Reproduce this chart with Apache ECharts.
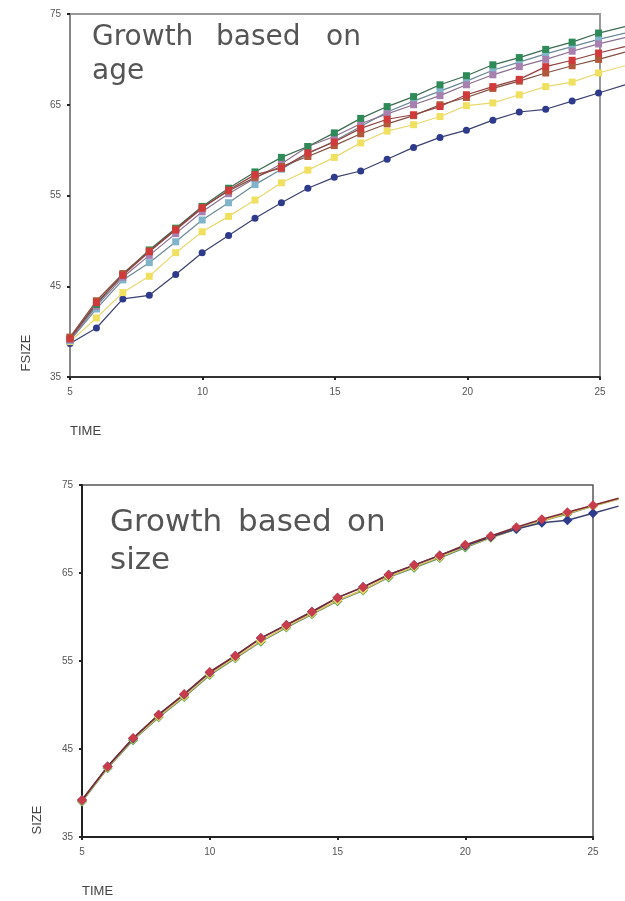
<!DOCTYPE html>
<html><head><meta charset="utf-8">
<script src="https://cdn.jsdelivr.net/npm/echarts@6/dist/echarts.min.js"></script>
<style>html,body{margin:0;padding:0;background:#fff}#c{width:625px;height:901px}</style>
</head><body><div id="c"></div>
<script>
// Time points (26 is only the line running off past the frame)
var times = [5,6,7,8,9,10,11,12,13,14,15,16,17,18,19,20,21,22,23,24,25,26];
var xTicks = [5,10,15,20,25];
var yTicks = [35,45,55,65,75];

// Top chart: growth based on age (FSIZE)
var ageGreen  = [39.3,43.0,46.3,49.0,51.4,53.8,55.8,57.6,59.2,60.4,61.9,63.5,64.8,65.9,67.2,68.2,69.4,70.2,71.1,71.9,72.9,73.6];
var ageTeal   = [39.0,42.5,45.7,47.6,49.9,52.3,54.2,56.2,57.9,59.6,61.0,62.6,64.2,65.4,66.5,67.6,68.8,69.7,70.6,71.4,72.2,72.9];
var agePurple = [39.1,42.8,46.0,48.4,50.8,53.2,55.2,56.9,58.5,60.4,61.5,62.9,64.0,65.0,66.0,67.2,68.3,69.2,70.0,70.9,71.7,72.4];
var ageBrown  = [39.4,43.4,46.4,48.9,51.3,53.7,55.5,57.0,58.2,59.3,60.5,61.8,62.9,63.8,65.0,65.8,66.8,67.6,68.5,69.3,70.0,70.8];
var ageRed    = [39.2,43.2,46.2,48.8,51.2,53.6,55.6,57.3,58.0,59.7,60.9,62.4,63.4,63.9,64.8,66.1,67.0,67.8,69.2,69.9,70.7,71.4];
var ageYellow = [38.9,41.5,44.3,46.1,48.7,51.0,52.7,54.5,56.4,57.8,59.2,60.8,62.1,62.8,63.7,64.9,65.2,66.1,67.0,67.5,68.5,69.3];
var ageBlue   = [38.7,40.4,43.6,44.0,46.3,48.7,50.6,52.5,54.2,55.8,57.0,57.7,59.0,60.3,61.4,62.2,63.3,64.2,64.5,65.4,66.3,67.2];

// Bottom chart: growth based on size (SIZE)
var sizeGreen  = [39.0,42.8,46.0,48.6,50.9,53.4,55.3,57.2,58.8,60.3,61.8,63.0,64.5,65.6,66.7,67.9,69.0,70.0,70.9,71.7,72.6,73.4];
var sizeYellow = [39.1,42.9,46.1,48.7,51.0,53.5,55.4,57.3,58.9,60.4,61.9,63.1,64.6,65.7,66.8,68.0,69.0,70.0,70.9,71.8,72.6,73.4];
var sizeBlue   = [39.2,43.0,46.2,48.9,51.2,53.7,55.6,57.6,59.1,60.6,62.2,63.4,64.8,65.9,67.0,68.1,69.1,70.0,70.7,71.0,71.8,72.6];
var sizeRed    = [39.2,43.0,46.25,48.9,51.25,53.75,55.6,57.6,59.1,60.6,62.2,63.4,64.8,65.9,67.0,68.2,69.2,70.2,71.1,71.9,72.7,73.5];

function pairs(v){
  return times.map(function(t,i){
    return t > 25 ? {value:[t, v[i]], symbol:'none'} : [t, v[i]];
  });
}

// frame geometry (visible axes run 5..25; hidden plotting axes run 5..26 at the same scale)
var G1 = {left:70, top:14, width:530, height:363};
var G2 = {left:82, top:485, width:511, height:352};

var tickFont = {color:'#555', fontSize:10, fontFamily:'Liberation Sans'};
function xAxis(gi, axisColor){
  return {type:'value', gridIndex:gi, min:5, max:25, interval:5,
    axisLine:{show:true, onZero:false, lineStyle:{color:axisColor, width:2}},
    axisTick:{show:true, length:3, lineStyle:{color:'#222', width:2}},
    axisLabel:Object.assign({margin:10, formatter:function(v){return xTicks.indexOf(v)>=0?String(v):'';}}, tickFont),
    splitLine:{show:false}};
}
function yAxis(gi, axisColor){
  return {type:'value', gridIndex:gi, min:35, max:75, interval:10,
    axisLine:{show:true, onZero:false, lineStyle:{color:axisColor, width:2}},
    axisTick:{show:true, length:3, lineStyle:{color:'#222', width:2}},
    axisLabel:Object.assign({margin:9, formatter:function(v){return yTicks.indexOf(v)>=0?String(v):'';}}, tickFont),
    splitLine:{show:false}};
}
function hiddenX(gi){ return {type:'value', gridIndex:gi, min:5, max:26, show:false, splitLine:{show:false}}; }
function hiddenY(gi){ return {type:'value', gridIndex:gi, min:35, max:75, show:false, splitLine:{show:false}}; }

function topSeries(data, color, lineColor, symbol, size){
  return {type:'line', xAxisIndex:2, yAxisIndex:2, data:pairs(data), clip:false,
    symbol:symbol||'rect', symbolSize:size||7, showAllSymbol:true,
    itemStyle:{color:color, borderWidth:0},
    lineStyle:{color:lineColor||color, width:1.2}, emphasis:{disabled:true}, silent:true, z:3};
}
function botSeries(data, color, lineColor){
  return {type:'line', xAxisIndex:3, yAxisIndex:3, data:pairs(data), clip:false,
    symbol:'diamond', symbolSize:10, showAllSymbol:true,
    itemStyle:{color:color, borderWidth:0},
    lineStyle:{color:lineColor||color, width:1.5}, emphasis:{disabled:true}, silent:true, z:3};
}
// y given as text baseline
function word(txt, x, baseline, size){
  return {type:'text', x:x, y:baseline - 0.37*size, style:{text:txt, fill:'#555', font:size+'px "DejaVu Sans", sans-serif', verticalAlign:'middle'}};
}

var chart = echarts.init(document.getElementById('c'), null, {renderer:'canvas'});
chart.setOption({
  animation:false,
  backgroundColor:'#fff',
  grid:[
    {left:G1.left, top:G1.top, width:G1.width, height:G1.height, show:true, borderColor:'#999', borderWidth:2, backgroundColor:'transparent'},
    {left:G2.left, top:G2.top, width:G2.width, height:G2.height, show:true, borderColor:'#555', borderWidth:1.5, backgroundColor:'transparent'},
    {left:G1.left, top:G1.top, width:G1.width*21/20, height:G1.height, show:false},
    {left:G2.left, top:G2.top, width:G2.width*21/20, height:G2.height, show:false}
  ],
  xAxis:[xAxis(0,'#333'), xAxis(1,'#222'), hiddenX(2), hiddenX(3)],
  yAxis:[yAxis(0,'#888'), yAxis(1,'#222'), hiddenY(2), hiddenY(3)],
  graphic:[
    word('Growth', 92, 48, 28), word('based', 216, 48, 28), word('on', 326, 48, 28), word('age', 92, 82, 28),
    word('Growth', 110, 534, 31), word('based', 238, 534, 31), word('on', 347, 534, 31), word('size', 110, 572, 31),
    {type:'text', x:26, y:353, rotation:Math.PI/2, style:{text:'FSIZE', fill:'#444', font:'13px "Liberation Sans", sans-serif', align:'center', verticalAlign:'middle'}},
    {type:'text', left:70, top:425, style:{text:'TIME', fill:'#444', font:'13px "Liberation Sans", sans-serif'}},
    {type:'text', x:37, y:820, rotation:Math.PI/2, style:{text:'SIZE', fill:'#444', font:'13px "Liberation Sans", sans-serif', align:'center', verticalAlign:'middle'}},
    {type:'text', left:82, top:885, style:{text:'TIME', fill:'#444', font:'13px "Liberation Sans", sans-serif'}}
  ],
  series:[
    topSeries(ageBlue,'#2e3a8c','#3a4070','circle',7),
    topSeries(ageYellow,'#f0e060','#e8d870'),
    topSeries(ageTeal,'#80b4c8','#6a8a96'),
    topSeries(agePurple,'#a880b0','#8a7090'),
    topSeries(ageGreen,'#2e8b57','#3a6a50'),
    topSeries(ageBrown,'#b0583a','#805040'),
    topSeries(ageRed,'#d03a3a','#904040'),
    botSeries(sizeGreen,'#3a9a50','#5a8a60'),
    botSeries(sizeYellow,'#f0d060','#e0c060'),
    botSeries(sizeBlue,'#2e3a8c','#3a4070'),
    botSeries(sizeRed,'#c83c4c','#7a2a34')
  ]
});
</script>
</body></html>
